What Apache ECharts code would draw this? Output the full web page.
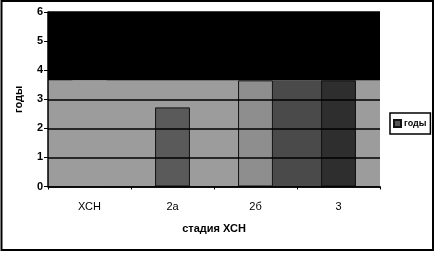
<!DOCTYPE html>
<html><head><meta charset="utf-8">
<script src="https://cdn.jsdelivr.net/npm/echarts@6/dist/echarts.min.js"></script>
<style>html,body{margin:0;padding:0;background:#fff}#c{width:436px;height:253px}</style>
</head><body><div id="c"></div>
<script>
// Data
const categories = ['ХСН', '2а', '2б', '3'];
const seriesName = 'годы';
const values = [3.65, 2.72, 3.65, 3.65];
const bandTop = 3.65;                 // upper edge of the grey band behind the columns
const smudgeFrom = '2б';              // dark scan smudge runs from the right edge of this column ...
const smudgeTo = '3';                 // ... to the right edge of this one
const yTicks = [0, 1, 2, 3, 4, 5, 6];

// Styles (kept apart from the data)
const barColors = ['#9c9c9c', '#5a5a5a', '#8e8e8e', '#2e2e2e'];
const barBorders = ['#9c9c9c', '#111', '#111', '#111'];
const barShare = 0.42;

const chart = echarts.init(document.getElementById('c'), null, {renderer: 'canvas'});
const font = 'Liberation Sans, Arial, sans-serif';
chart.setOption({
  animation: false,
  backgroundColor: '#fff',
  grid: {left: 48, right: 56, top: 12, bottom: 66.5, show: true, backgroundColor: '#000', borderWidth: 0},
  legend: {
    left: 390, top: 113, orient: 'vertical',
    data: [seriesName],
    itemWidth: 7, itemHeight: 7, itemGap: 2,
    padding: [6, 4, 6, 3],
    borderColor: '#000', borderWidth: 1.5, backgroundColor: '#fff',
    textStyle: {fontFamily: font, fontSize: 9, color: '#000', fontWeight: 'bold', padding: [0, 0, 0, -2]},
    icon: 'rect'
  },
  xAxis: {
    type: 'category', data: categories,
    name: 'стадия ХСН', nameLocation: 'middle', nameGap: 37,
    nameTextStyle: {fontFamily: font, fontSize: 11, fontWeight: 'bold', color: '#000'},
    axisLine: {lineStyle: {color: '#000', width: 1.5}},
    axisTick: {show: true, length: 3, lineStyle: {color: '#000'}},
    axisLabel: {fontFamily: font, fontSize: 11, color: '#000', margin: 15},
    z: 5
  },
  yAxis: {
    type: 'value', min: yTicks[0], max: yTicks[yTicks.length - 1], interval: 1,
    name: 'годы', nameLocation: 'middle', nameGap: 24, nameRotate: 90,
    nameTextStyle: {fontFamily: font, fontSize: 11, fontWeight: 'bold', color: '#000'},
    axisLine: {show: true, lineStyle: {color: '#000', width: 1.5}},
    axisTick: {show: true, length: 4, lineStyle: {color: '#000'}},
    axisLabel: {fontFamily: font, fontSize: 11, fontWeight: 'bold', color: '#000', margin: 5},
    splitLine: {show: true, lineStyle: {color: '#000', width: 1.5}},
    z: 5
  },
  series: [{
    name: 'band', type: 'custom', z: 1, silent: true,
    data: [[0, bandTop]],
    renderItem: function (params, api) {
      const cs = params.coordSys;
      const top = api.coord([0, api.value(1)])[1];
      const base = api.coord([0, 0])[1];
      const bw = api.size([1, 0])[0] * barShare;
      const xa = api.coord([categories.indexOf(smudgeFrom), 0])[0] + bw / 2;
      const xb = api.coord([categories.indexOf(smudgeTo), 0])[0] + bw / 2;
      return {type: 'group', children: [
        {type: 'rect', shape: {x: cs.x, y: top, width: cs.width, height: base - top}, style: {fill: '#9c9c9c'}},
        {type: 'rect', shape: {x: xa, y: top, width: xb - xa, height: base - top}, style: {fill: '#4a4a4a'}}
      ]};
    }
  }, {
    name: seriesName, type: 'bar', z: 2,
    barCategoryGap: (100 - barShare * 100) + '%',
    itemStyle: {color: '#555', borderColor: '#111', borderWidth: 1},
    data: values.map((v, i) => ({value: v, itemStyle: {color: barColors[i], borderColor: barBorders[i], borderWidth: 1}}))
  }],
  graphic: [{
    type: 'rect', silent: true, z: 100,
    shape: {x: 1.5, y: 1, width: 431.5, height: 249},
    style: {fill: 'none', stroke: '#000', lineWidth: 2}
  }]
});
</script></body></html>
